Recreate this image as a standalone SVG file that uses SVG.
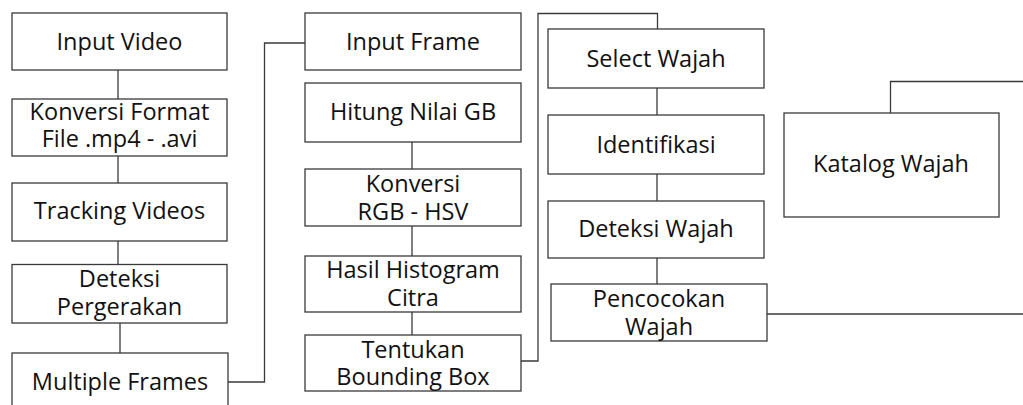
<svg xmlns="http://www.w3.org/2000/svg" width="1023" height="405" viewBox="0 0 1023 405">
<style>
  rect.box { fill: #ffffff; stroke: #3a3a3a; stroke-width: 1.3; }
  .conn path, .conn line { fill: none; stroke: #3a3a3a; stroke-width: 1.3; }
  text { font-family: "Open Sans", "Noto Sans", sans-serif; font-size: 23.5px; fill: #111111; text-anchor: middle; }
</style>
<rect x="0" y="0" width="1023" height="405" fill="#ffffff"/>
<g class="conn" id="connectors">
  <line x1="118" y1="70" x2="118" y2="99"/>
  <line x1="118" y1="156" x2="118" y2="183"/>
  <line x1="118" y1="241" x2="118" y2="265"/>
  <line x1="120" y1="323" x2="120" y2="353"/>
  <path d="M228 382 H264.5 V43 H305"/>
  <line x1="412" y1="142" x2="412" y2="169"/>
  <line x1="412" y1="226" x2="412" y2="256"/>
  <line x1="412" y1="312" x2="412" y2="335"/>
  <path d="M521 361 H538 V13.5 H657.5 V29"/>
  <line x1="657" y1="88" x2="657" y2="115"/>
  <line x1="657" y1="174" x2="657" y2="201"/>
  <line x1="657" y1="258" x2="657" y2="284"/>
  <path d="M767 314 H1023"/>
  <path d="M890.5 113 V81.5 H1023"/>
</g>
<g id="n-input-video">
  <rect class="box" x="12" y="13" width="215" height="57"/>
  <text x="119.5" y="50">Input Video</text>
</g>
<g id="n-konversi-format">
  <rect class="box" x="12" y="99" width="215" height="57"/>
  <text x="119.5" y="120">Konversi Format</text>
  <text x="119.5" y="147">File .mp4 - .avi</text>
</g>
<g id="n-tracking">
  <rect class="box" x="12" y="183" width="215" height="58"/>
  <text x="119.5" y="219">Tracking Videos</text>
</g>
<g id="n-deteksi-gerak">
  <rect class="box" x="12" y="264.5" width="215" height="58.5"/>
  <text x="119.5" y="287">Deteksi</text>
  <text x="119.5" y="315">Pergerakan</text>
</g>
<g id="n-multiple-frames">
  <rect class="box" x="12" y="353" width="216" height="60"/>
  <text x="120" y="390">Multiple Frames</text>
</g>
<g id="n-input-frame">
  <rect class="box" x="305" y="13" width="216" height="57"/>
  <text x="413" y="50">Input Frame</text>
</g>
<g id="n-hitung">
  <rect class="box" x="305" y="83" width="216" height="59"/>
  <text x="413" y="120">Hitung Nilai GB</text>
</g>
<g id="n-konversi-rgb">
  <rect class="box" x="305" y="169" width="216" height="57"/>
  <text x="413" y="192">Konversi</text>
  <text x="413" y="220">RGB - HSV</text>
</g>
<g id="n-histogram">
  <rect class="box" x="305" y="256" width="216" height="56"/>
  <text x="413" y="278">Hasil Histogram</text>
  <text x="413" y="306">Citra</text>
</g>
<g id="n-bounding">
  <rect class="box" x="305" y="335" width="216" height="56"/>
  <text x="413" y="358">Tentukan</text>
  <text x="413" y="385">Bounding Box</text>
</g>
<g id="n-select-wajah">
  <rect class="box" x="548" y="29" width="216" height="59"/>
  <text x="656" y="66.5">Select Wajah</text>
</g>
<g id="n-identifikasi">
  <rect class="box" x="548" y="115" width="216" height="59"/>
  <text x="656" y="153">Identifikasi</text>
</g>
<g id="n-deteksi-wajah">
  <rect class="box" x="548" y="201" width="216" height="57"/>
  <text x="656" y="237">Deteksi Wajah</text>
</g>
<g id="n-pencocokan">
  <rect class="box" x="551" y="284" width="216" height="57"/>
  <text x="659" y="307">Pencocokan</text>
  <text x="659" y="335">Wajah</text>
</g>
<g id="n-katalog">
  <rect class="box" x="784" y="113" width="215" height="104"/>
  <text x="891" y="172">Katalog Wajah</text>
</g>
</svg>
